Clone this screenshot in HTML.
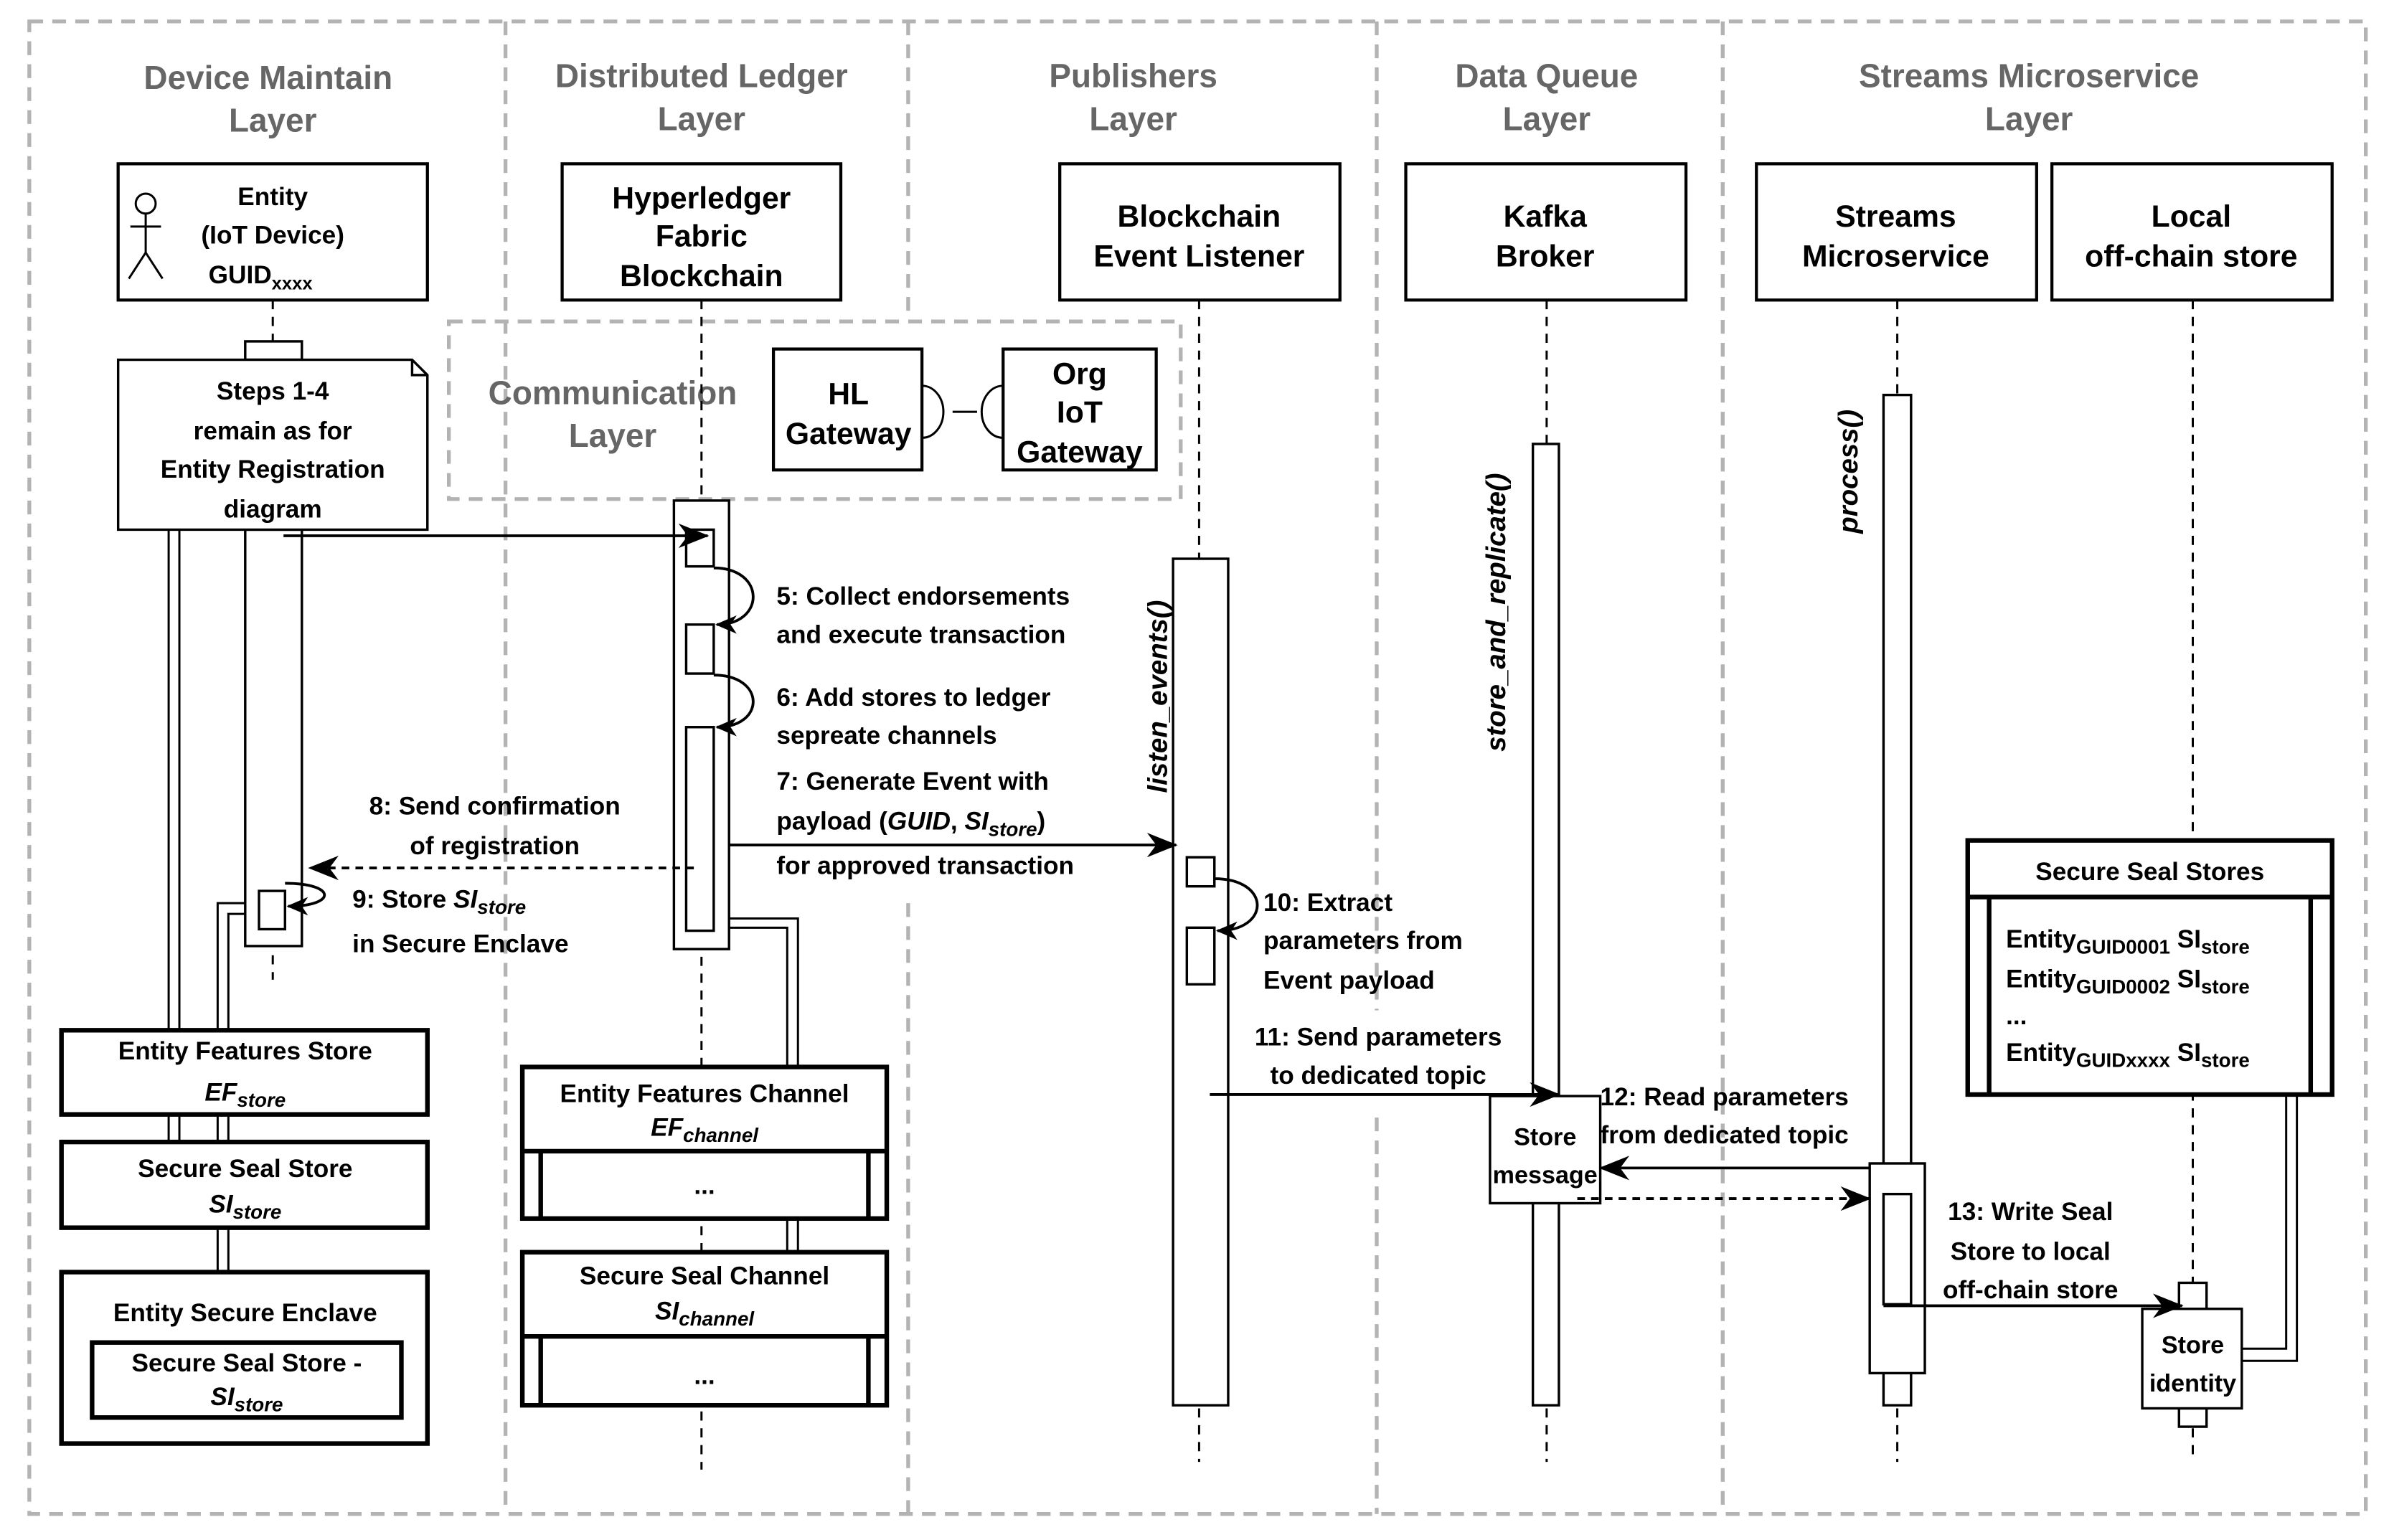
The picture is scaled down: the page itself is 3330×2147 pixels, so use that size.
<!DOCTYPE html>
<html><head><meta charset="utf-8"><style>
html,body{margin:0;padding:0;background:#fff;}
svg{display:block;}
text{font-family:"Liberation Sans",Arial,sans-serif;font-weight:bold;}
</style></head><body>
<svg width="3330" height="2147" viewBox="0 0 1560 1006" xmlns="http://www.w3.org/2000/svg">
<defs>
<marker id="ah" viewBox="0 0 20 16" refX="19" refY="8" markerWidth="20" markerHeight="16" markerUnits="userSpaceOnUse" orient="auto">
<path d="M0,0 L20,8 L0,16 L6,8 Z" fill="#000"/>
</marker>
<marker id="ahs" viewBox="0 0 14 12" refX="13" refY="6" markerWidth="14" markerHeight="12" markerUnits="userSpaceOnUse" orient="auto">
<path d="M0,0 L14,6 L0,12 L4,6 Z" fill="#000"/>
</marker>
</defs>
<rect width="1560" height="1006" fill="#fff"/>
<!-- layer frames -->
<g stroke="#b3b3b3" stroke-width="2.5" fill="none" stroke-dasharray="9 6">
<rect x="19" y="14" width="1526" height="975"/>
<line x1="330" y1="14" x2="330" y2="989"/>
<line x1="593" y1="14" x2="593" y2="206"/>
<line x1="593" y1="590" x2="593" y2="989"/>
<line x1="899" y1="14" x2="899" y2="660"/>
<line x1="899" y1="730" x2="899" y2="989"/>
<line x1="1125" y1="14" x2="1125" y2="989"/>
<rect x="293" y="210" width="478" height="116"/>
</g>
<g fill="#666" font-size="21.5" text-anchor="middle">
<text x="175" y="58">Device Maintain</text><text x="178" y="86">Layer</text>
<text x="458" y="57">Distributed Ledger</text><text x="458" y="85">Layer</text>
<text x="740" y="57">Publishers</text><text x="740" y="85">Layer</text>
<text x="1010" y="57">Data Queue</text><text x="1010" y="85">Layer</text>
<text x="1325" y="57">Streams Microservice</text><text x="1325" y="85">Layer</text>
<text x="400" y="264">Communication</text><text x="400" y="292">Layer</text>
</g>
<!-- lifelines -->
<g stroke="#000" stroke-width="1.4" stroke-dasharray="6 5" fill="none">
<line x1="178" y1="196" x2="178" y2="223"/>
<line x1="178" y1="624" x2="178" y2="640"/>
<line x1="458" y1="196" x2="458" y2="960"/>
<line x1="783" y1="196" x2="783" y2="365"/>
<line x1="783" y1="920" x2="783" y2="955"/>
<line x1="1010" y1="196" x2="1010" y2="290"/>
<line x1="1010" y1="920" x2="1010" y2="955"/>
<line x1="1239" y1="196" x2="1239" y2="258"/>
<line x1="1239" y1="920" x2="1239" y2="955"/>
<line x1="1432" y1="196" x2="1432" y2="955"/>
</g>
<!-- header boxes -->
<g stroke="#000" stroke-width="2" fill="#fff">
<rect x="77" y="107" width="202" height="89"/>
<rect x="367" y="107" width="182" height="89"/>
<rect x="692" y="107" width="183" height="89"/>
<rect x="918" y="107" width="183" height="89"/>
<rect x="1147" y="107" width="183" height="89"/>
<rect x="1340" y="107" width="183" height="89"/>
<rect x="505" y="228" width="97" height="79"/>
<rect x="655" y="228" width="100" height="79"/>
</g>
<!-- stick figure -->
<g stroke="#000" stroke-width="1.4" fill="none">
<circle cx="95" cy="133" r="6.5"/>
<line x1="95" y1="139.5" x2="95" y2="165"/>
<line x1="85" y1="148" x2="105" y2="148"/>
<line x1="95" y1="165" x2="84" y2="182"/>
<line x1="95" y1="165" x2="106" y2="182"/>
<!-- gateway connector -->
<line x1="622" y1="269" x2="638" y2="269"/>
<path d="M602,252 A14,17 0 0 1 602,286"/>
<path d="M655,252 A14,17 0 0 0 655,286"/>
</g>
<g font-size="17.5" text-anchor="middle" fill="#000">
<text x="178" y="134" font-size="16.5">Entity</text>
<text x="178" y="159" font-size="16.5">(IoT Device)</text>
<text x="170" y="185" font-size="16.5">GUID<tspan font-size="12" dy="4">xxxx</tspan></text>
<text x="458" y="136" font-size="20">Hyperledger</text>
<text x="458" y="161" font-size="20">Fabric</text>
<text x="458" y="187" font-size="20">Blockchain</text>
<text x="783" y="148" font-size="20">Blockchain</text>
<text x="783" y="174" font-size="20">Event Listener</text>
<text x="1009" y="148" font-size="20">Kafka</text>
<text x="1009" y="174" font-size="20">Broker</text>
<text x="1238" y="148" font-size="20">Streams</text>
<text x="1238" y="174" font-size="20">Microservice</text>
<text x="1431" y="148" font-size="20">Local</text>
<text x="1431" y="174" font-size="20">off-chain store</text>
<text x="554" y="264" font-size="20">HL</text>
<text x="554" y="290" font-size="20">Gateway</text>
<text x="705" y="251" font-size="20">Org</text>
<text x="705" y="276" font-size="20">IoT</text>
<text x="705" y="302" font-size="20">Gateway</text>
</g>
<!-- double connector lines -->
<g stroke="#000" stroke-width="1.4" fill="none">
<line x1="110" y1="346" x2="110" y2="800"/>
<line x1="117" y1="346" x2="117" y2="800"/>
<polyline points="160,590 142,590 142,831"/>
<polyline points="160,597 149,597 149,831"/>
<polyline points="464,600 521,600 521,697"/>
<polyline points="464,606 514,606 514,697"/>
<line x1="514" y1="796" x2="514" y2="818"/><line x1="521" y1="796" x2="521" y2="818"/>
<polyline points="1500,705 1500,889 1464,889"/>
<polyline points="1493,705 1493,881 1464,881"/>
</g>
<!-- entity activation -->
<g stroke="#000" stroke-width="1.6" fill="#fff">
<rect x="160" y="223" width="37" height="12"/>
<rect x="160" y="346" width="37" height="272"/>
<rect x="169" y="582" width="17" height="25"/>
<path d="M77,235 L269,235 L279,245 L279,346 L77,346 Z"/>
<path d="M269,235 L269,245 L279,245" fill="none"/>
</g>
<g font-size="16.5" text-anchor="middle">
<text x="178" y="261">Steps 1-4</text>
<text x="178" y="287">remain as for</text>
<text x="178" y="312">Entity Registration</text>
<text x="178" y="338">diagram</text>
</g>
<!-- hyperledger activation -->
<g stroke="#000" stroke-width="1.6" fill="#fff">
<rect x="440" y="327" width="36" height="293"/>
<rect x="448" y="346" width="18" height="24"/>
<rect x="448" y="408" width="18" height="32"/>
<rect x="448" y="475" width="18" height="133"/>
</g>
<!-- event listener activation -->
<g stroke="#000" stroke-width="1.6" fill="#fff">
<rect x="766" y="365" width="36" height="553"/>
<rect x="775" y="560" width="18" height="19"/>
<rect x="775" y="606" width="18" height="37"/>
<rect x="1001" y="290" width="17" height="628"/>
<rect x="973" y="716" width="72" height="70"/>
<rect x="1230" y="258" width="18" height="660"/>
<rect x="1221" y="760" width="36" height="137"/>
<rect x="1230" y="780" width="18" height="72"/>
<rect x="1423" y="838" width="18" height="17"/>
<rect x="1423" y="920" width="18" height="12"/>
<rect x="1399" y="855" width="65" height="65"/>
</g>
<g font-size="16" text-anchor="middle">
<text x="1009" y="748">Store</text>
<text x="1009" y="773">message</text>
<text x="1432" y="884">Store</text>
<text x="1432" y="909">identity</text>
</g>
<g font-size="18" font-style="italic">
<text transform="translate(762,455) rotate(-90)" text-anchor="middle">listen_events()</text>
<text transform="translate(983,400) rotate(-90)" text-anchor="middle">store_and_replicate()</text>
<text transform="translate(1213,308) rotate(-90)" text-anchor="middle">process()</text>
</g>
<!-- stores left -->
<g stroke="#000" stroke-width="3" fill="#fff">
<rect x="40" y="673" width="239" height="55"/>
<rect x="40" y="746" width="239" height="56"/>
<rect x="40" y="831" width="239" height="112"/>
<rect x="60" y="877" width="202" height="49"/>
<rect x="341" y="697" width="238" height="99"/>
<line x1="341" y1="752" x2="579" y2="752"/>
<line x1="353" y1="752" x2="353" y2="796"/><line x1="567" y1="752" x2="567" y2="796"/>
<rect x="341" y="818" width="238" height="100"/>
<line x1="341" y1="873" x2="579" y2="873"/>
<line x1="353" y1="873" x2="353" y2="918"/><line x1="567" y1="873" x2="567" y2="918"/>
<rect x="1285" y="549" width="238" height="166"/>
<line x1="1285" y1="586" x2="1523" y2="586"/>
<line x1="1299" y1="586" x2="1299" y2="715"/><line x1="1509" y1="586" x2="1509" y2="715"/>
</g>
<g font-size="16.5" text-anchor="middle">
<text x="160" y="692">Entity Features Store</text>
<text x="160" y="719" font-style="italic">EF<tspan font-size="13" dy="4">store</tspan></text>
<text x="160" y="769">Secure Seal Store</text>
<text x="160" y="792" font-style="italic">SI<tspan font-size="13" dy="4">store</tspan></text>
<text x="160" y="863">Entity Secure Enclave</text>
<text x="161" y="896">Secure Seal Store -</text>
<text x="161" y="918" font-style="italic">SI<tspan font-size="13" dy="4">store</tspan></text>
<text x="460" y="720">Entity Features Channel</text>
<text x="460" y="742" font-style="italic">EF<tspan font-size="13" dy="4">channel</tspan></text>
<text x="460" y="780">...</text>
<text x="460" y="839">Secure Seal Channel</text>
<text x="460" y="862" font-style="italic">SI<tspan font-size="13" dy="4">channel</tspan></text>
<text x="460" y="904">...</text>
<text x="1404" y="575">Secure Seal Stores</text>
</g>
<g font-size="16.5">
<text x="1310" y="619">Entity<tspan font-size="13" dy="4">GUID0001</tspan><tspan dy="-4"> SI</tspan><tspan font-size="13" dy="4">store</tspan></text>
<text x="1310" y="645">Entity<tspan font-size="13" dy="4">GUID0002</tspan><tspan dy="-4"> SI</tspan><tspan font-size="13" dy="4">store</tspan></text>
<text x="1310" y="669">...</text>
<text x="1310" y="693">Entity<tspan font-size="13" dy="4">GUIDxxxx</tspan><tspan dy="-4"> SI</tspan><tspan font-size="13" dy="4">store</tspan></text>
</g>
<!-- arrows -->
<g stroke="#000" stroke-width="1.8" fill="none">
<line x1="185" y1="350" x2="462" y2="350" marker-end="url(#ah)"/>
<path d="M466,371 C500,371 500,408 468,408" marker-end="url(#ahs)"/>
<path d="M466,441 C500,441 500,475 468,475" marker-end="url(#ahs)"/>
<line x1="453" y1="567" x2="202" y2="567" stroke-dasharray="5 4" marker-end="url(#ah)"/>
<path d="M186,577 C220,577 220,592 188,592" marker-end="url(#ahs)"/>
<line x1="476" y1="552" x2="768" y2="552" marker-end="url(#ah)"/>
<path d="M793,574 C830,574 830,608 795,608" marker-end="url(#ahs)"/>
<line x1="790" y1="715" x2="1018" y2="715" marker-end="url(#ah)"/>
<line x1="1221" y1="763" x2="1045" y2="763" marker-end="url(#ah)"/>
<line x1="1030" y1="783" x2="1221" y2="783" stroke-dasharray="5 4" marker-end="url(#ah)"/>
<line x1="1230" y1="853" x2="1425" y2="853" marker-end="url(#ah)"/>
</g>
<!-- message labels -->
<g font-size="16.5">
<text x="507" y="395">5: Collect endorsements</text>
<text x="507" y="420">and execute transaction</text>
<text x="507" y="461">6: Add stores to ledger</text>
<text x="507" y="486">sepreate channels</text>
<text x="507" y="516">7: Generate Event with</text>
<text x="507" y="542">payload (<tspan font-style="italic">GUID</tspan>, <tspan font-style="italic">SI<tspan font-size="13" dy="4">store</tspan></tspan><tspan dy="-4">)</tspan></text>
<text x="507" y="571">for approved transaction</text>
<text x="323" y="532" text-anchor="middle">8: Send confirmation</text>
<text x="323" y="558" text-anchor="middle">of registration</text>
<text x="230" y="593">9: Store <tspan font-style="italic">SI<tspan font-size="13" dy="4">store</tspan></tspan></text>
<text x="230" y="622">in Secure Enclave</text>
<text x="825" y="595">10: Extract</text>
<text x="825" y="620">parameters from</text>
<text x="825" y="646">Event payload</text>
<text x="900" y="683" text-anchor="middle">11: Send parameters</text>
<text x="900" y="708" text-anchor="middle">to dedicated topic</text>
<text x="1045" y="722">12: Read parameters</text>
<text x="1045" y="747">from dedicated topic</text>
<text x="1326" y="797" text-anchor="middle">13: Write Seal</text>
<text x="1326" y="823" text-anchor="middle">Store to local</text>
<text x="1326" y="848" text-anchor="middle">off-chain store</text>
</g>
</svg>
</body></html>
